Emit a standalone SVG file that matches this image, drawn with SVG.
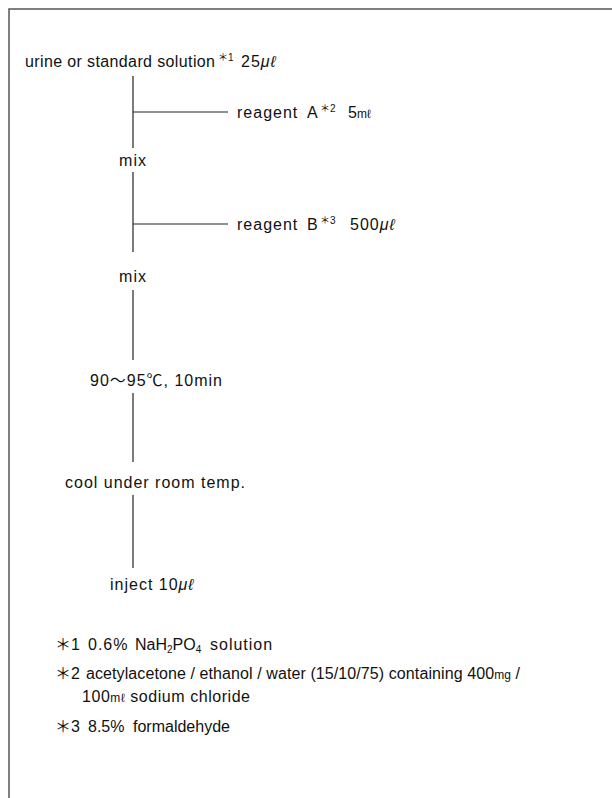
<svg xmlns="http://www.w3.org/2000/svg" width="612" height="798" viewBox="0 0 612 798">
<style>
text{font-family:"Liberation Sans","Noto Sans CJK JP",sans-serif;font-size:16px;fill:#111}
.sup{font-size:10px}
.ls{letter-spacing:1px}
.u{font-style:italic}
.sm{font-size:12px}
.ln{stroke:#222;stroke-width:1.2;fill:none}
.fr{stroke:#555;stroke-width:1.5;fill:none}
</style>
<rect width="612" height="798" fill="#fff"/>
<path class="fr" d="M9,798 V9 H612"/>
<g id="connectors">
<path class="ln" d="M133,76 V148"/>
<path class="ln" d="M133,112 H228"/>
<path class="ln" d="M133,172 V252"/>
<path class="ln" d="M133,224 H228"/>
<path class="ln" d="M133,290 V360"/>
<path class="ln" d="M133,393 V462"/>
<path class="ln" d="M133,495 V568"/>
</g>
<g id="n1">
<text x="25" y="67" textLength="190" lengthAdjust="spacing">urine or standard solution</text>
<text x="218" y="61" class="sup">＊1</text>
<text x="241" y="67" class="ls">25<tspan class="u">μℓ</tspan></text>
</g>
<g id="n2">
<text x="237" y="118" class="ls">reagent</text>
<text x="307" y="118">A</text>
<text x="320" y="112" class="sup">＊2</text>
<text x="348" y="118">5<tspan class="sm">mℓ</tspan></text>
</g>
<g id="n3"><text x="133" y="166" text-anchor="middle" class="ls">mix</text></g>
<g id="n4">
<text x="237" y="230" class="ls">reagent</text>
<text x="307" y="230">B</text>
<text x="320" y="224" class="sup">＊3</text>
<text x="350" y="230" class="ls">500<tspan class="u">μℓ</tspan></text>
</g>
<g id="n5"><text x="133" y="282" text-anchor="middle" class="ls">mix</text></g>
<g id="n6"><text x="90" y="386" textLength="132" lengthAdjust="spacing">90～95℃, 10min</text></g>
<g id="n7"><text x="65" y="488" textLength="180" lengthAdjust="spacing">cool under room temp.</text></g>
<g id="n8"><text x="110" y="590" class="ls">inject 10<tspan class="u">μℓ</tspan></text></g>
<g id="notes">
<text x="55" y="650">＊</text><text x="71" y="650">1</text>
<text x="88" y="650" class="ls">0.6%</text>
<text x="135" y="650">NaH<tspan font-size="10" dy="3">2</tspan><tspan dy="-3">PO</tspan><tspan font-size="10" dy="3">4</tspan></text>
<text x="210" y="650" class="ls">solution</text>
<text x="55" y="679">＊</text><text x="71" y="679">2</text>
<text x="86" y="679" textLength="434" lengthAdjust="spacing">acetylacetone / ethanol / water (15/10/75) containing 400<tspan class="sm">mg</tspan> /</text>
<text x="82" y="702" textLength="168" lengthAdjust="spacing">100<tspan class="sm">mℓ</tspan> sodium chloride</text>
<text x="55" y="732">＊</text><text x="71" y="732">3</text>
<text x="88" y="732">8.5%</text>
<text x="133" y="732">formaldehyde</text>
</g>
</svg>
